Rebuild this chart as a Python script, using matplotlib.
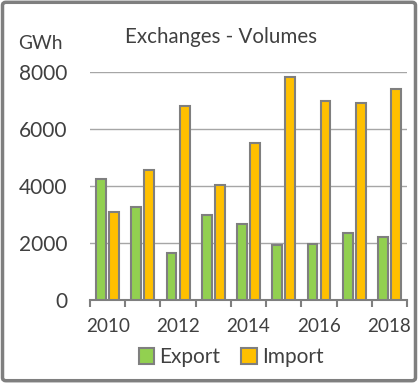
import matplotlib
matplotlib.use("Agg")
import matplotlib.pyplot as plt
import numpy as np
from matplotlib.patches import FancyBboxPatch

plt.rcParams['font.family'] = ['Lato', 'DejaVu Sans']

years = [2010, 2011, 2012, 2013, 2014, 2015, 2016, 2017, 2018]
export_gwh = [4230, 3250, 1630, 2960, 2650, 1910, 1940, 2330, 2190]
import_gwh = [3090, 4550, 6820, 4040, 5530, 7820, 7000, 6910, 7420]
yticks = [0, 2000, 4000, 6000, 8000]

txt = '#404040'
edge = '#7F7F7F'

fig = plt.figure(figsize=(4.18, 3.83), dpi=100)
ax = fig.add_axes([0.2153, 0.218, 0.7584, 0.593])

x = np.arange(len(years))
w = 0.28
ax.bar(x - 0.185, export_gwh, w, color='#92D050', edgecolor=edge, linewidth=1.5, label='Export', zorder=3)
ax.bar(x + 0.185, import_gwh, w, color='#FFC000', edgecolor=edge, linewidth=1.5, label='Import', zorder=3)

ax.set_xlim(-0.5, len(years) - 0.5)
ax.set_ylim(0, 8000)
ax.set_yticks(yticks)
ax.set_yticklabels([str(v) for v in yticks], fontsize=15, color=txt)
ax.tick_params(axis='y', length=0, pad=16)
ax.yaxis.grid(True, color='#A6A6A6', linewidth=1, zorder=0)

ax.set_xticks(x[::2])
ax.set_xticklabels([str(y) for y in years[::2]], fontsize=13.6, color=txt)
ax.set_xticks(np.arange(-0.5, len(years)), minor=True)
ax.tick_params(axis='x', which='major', length=0, pad=13)
ax.tick_params(axis='x', which='minor', length=5, width=1.5, color=edge)

for s in ['top', 'right', 'left']:
    ax.spines[s].set_visible(False)
ax.spines['bottom'].set_color(edge)
ax.spines['bottom'].set_linewidth(1.5)

fig.text(0.529, 0.903, 'Exchanges - Volumes', ha='center', va='center', fontsize=14.8, color=txt)
fig.text(0.096, 0.887, 'GWh', ha='center', va='center', fontsize=13.8, color=txt)

leg = fig.legend(loc='center', bbox_to_anchor=(0.553, 0.067), ncol=2, frameon=False,
                 fontsize=15, handlelength=0.75, handleheight=0.75, handletextpad=0.25,
                 columnspacing=1.0)
for t in leg.get_texts():
    t.set_color(txt)

fig.patches.append(FancyBboxPatch((0.006, 0.006), 0.988, 0.988, boxstyle='round,pad=0,rounding_size=0.008',
                                  transform=fig.transFigure, fill=False, edgecolor=edge, linewidth=2.5))

fig.savefig('out.png', dpi=100)
